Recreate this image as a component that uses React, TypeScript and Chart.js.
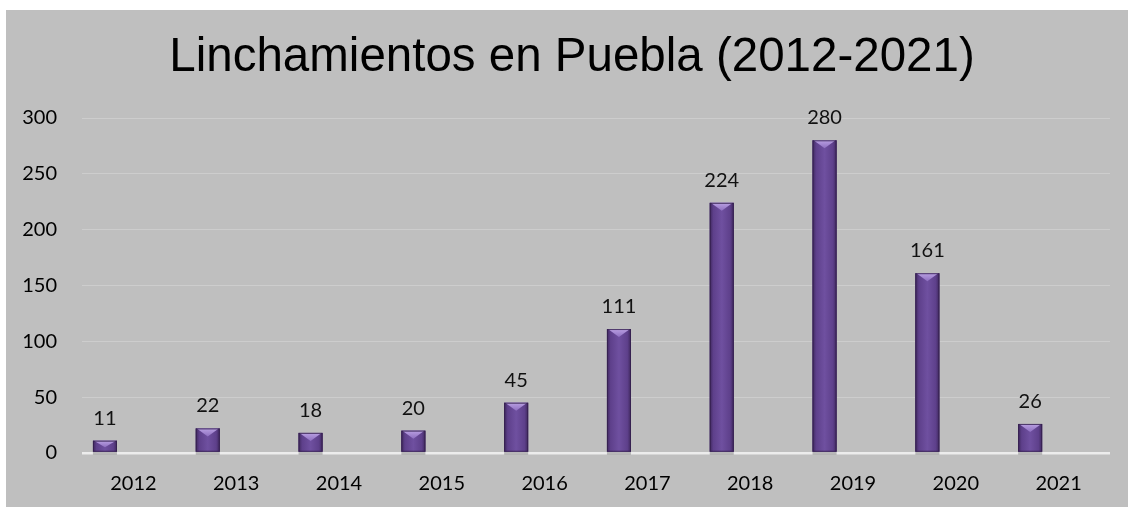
import React, { useEffect, useRef } from "react";
import { Chart, registerables } from "chart.js";

Chart.register(...registerables);

const years = ["2012", "2013", "2014", "2015", "2016", "2017", "2018", "2019", "2020", "2021"];
const lynchings = [11, 22, 18, 20, 45, 111, 224, 280, 161, 26];
const emptySeries: (number | null)[] = [null, null, null, null, null, null, null, null, null, null];
const titleText = "Linchamientos en Puebla (2012-2021)";
const yMax = 300;
const yStep = 50;

const bevelPlugin = {
  id: "bevelBars",
  afterDatasetsDraw(chart: any) {
    const ctx = chart.ctx;
    const meta = chart.getDatasetMeta(0);
    meta.data.forEach((bar: any) => {
      const { x, y, base, width } = bar.getProps(["x", "y", "base", "width"], true);
      const l = x - width / 2;
      const r = x + width / 2;
      const h = base - y;
      ctx.save();
      ctx.fillStyle = "rgba(90,90,90,0.35)";
      ctx.fillRect(l, base, width, 3);
      const g = ctx.createLinearGradient(l, 0, r, 0);
      g.addColorStop(0, "#3f285e");
      g.addColorStop(0.15, "#5e408b");
      g.addColorStop(0.5, "#6f50a0");
      g.addColorStop(0.85, "#5e408b");
      g.addColorStop(1, "#3f285e");
      ctx.fillStyle = g;
      ctx.fillRect(l, y, width, h);
      const depth = Math.min(8, h * 0.6);
      const tg = ctx.createLinearGradient(0, y, 0, y + depth);
      tg.addColorStop(0, "#b9a0e2");
      tg.addColorStop(1, "#8e6fc0");
      ctx.fillStyle = tg;
      ctx.beginPath();
      ctx.moveTo(l + 1, y);
      ctx.lineTo(r - 1, y);
      ctx.lineTo(x, y + depth);
      ctx.closePath();
      ctx.fill();
      ctx.strokeStyle = "rgba(50,30,75,0.8)";
      ctx.lineWidth = 1;
      ctx.strokeRect(l + 0.5, y + 0.5, width - 1, h - 1);
      ctx.restore();
    });
  },
};

const labelPlugin = {
  id: "valueLabels",
  afterDraw(chart: any) {
    const ctx = chart.ctx;
    const meta = chart.getDatasetMeta(0);
    ctx.save();
    ctx.font = "20px Lato";
    ctx.fillStyle = "#111";
    ctx.textAlign = "center";
    ctx.textBaseline = "alphabetic";
    meta.data.forEach((bar: any, i: number) => {
      ctx.fillText(String(lynchings[i]), bar.x, bar.y - 16);
    });
    ctx.restore();
  },
};

export default function App() {
  const ref = useRef<HTMLCanvasElement>(null);
  useEffect(() => {
    if (!ref.current) return;
    const chart = new Chart(ref.current, {
      type: "bar",
      data: {
        labels: years,
        datasets: [
          { data: lynchings, backgroundColor: "#5e3f8a", borderWidth: 0 },
          { data: emptySeries, backgroundColor: "transparent" },
          { data: emptySeries, backgroundColor: "transparent" },
        ],
      },
      options: {
        responsive: false,
        animation: false,
        categoryPercentage: 0.83,
        barPercentage: 0.845,
        layout: { padding: { left: 10, right: 0, top: 0, bottom: 0 } },
        plugins: {
          legend: { display: false },
          tooltip: { enabled: false },
          title: {
            display: true,
            text: titleText,
            color: "#000",
            font: { family: "'Liberation Sans', Arial, sans-serif", size: 47.5, weight: "normal", lineHeight: 1.2 },
            padding: { top: 19, bottom: 32 },
          },
        },
        scales: {
          x: {
            grid: { display: false, drawTicks: false },
            border: { display: false },
            ticks: { color: "#000", font: { family: "Lato", size: 20 }, padding: 19, maxRotation: 0 },
            afterFit(scale: any) {
              scale.height = 54;
            },
          },
          y: {
            min: 0,
            max: yMax,
            ticks: { stepSize: yStep, color: "#000", font: { family: "Lato", size: 20 }, padding: 25 },
            grid: {
              drawTicks: false,
              color: (c: any) => (c.tick && c.tick.value === 0 ? "#ececec" : "#cdcdcd"),
              lineWidth: (c: any) => (c.tick && c.tick.value === 0 ? 2.5 : 1),
            },
            border: { display: false },
            afterFit(scale: any) {
              scale.width = 66;
            },
          },
          yPad: {
            position: "right",
            display: true,
            min: 0,
            max: yMax,
            grid: { display: false, drawTicks: false },
            border: { display: false },
            ticks: { display: false },
            afterFit(scale: any) {
              scale.width = 18;
            },
          },
        },
      },
      plugins: [bevelPlugin, labelPlugin],
    });
    return () => chart.destroy();
  }, []);
  return (
    <div style={{ position: "absolute", left: 6, top: 10, width: 1122, height: 497, background: "#bfbfbf" }}>
      <canvas ref={ref} width={1122} height={497} style={{ display: "block" }} />
    </div>
  );
}
